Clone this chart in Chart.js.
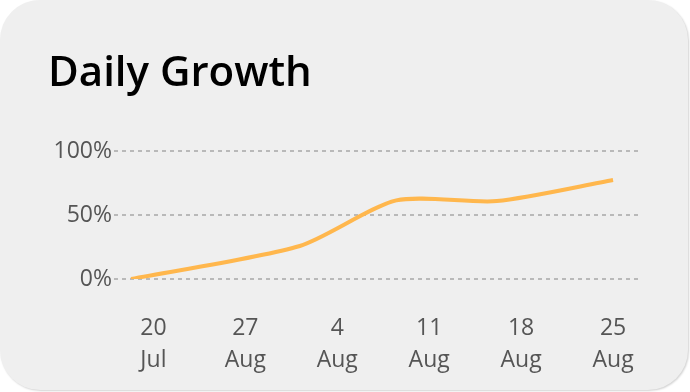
<!DOCTYPE html>
<html>
<head>
<meta charset="utf-8">
<script src="https://cdn.jsdelivr.net/npm/chart.js@4"></script>
<style>
  html, body { margin: 0; padding: 0; background: #ffffff; }
  #card {
    position: absolute; left: 0; top: 0; width: 688px; height: 390px;
    background: #efefef; border-radius: 40px;
    box-shadow: 1px 1px 2px rgba(0,0,0,0.18);
  }
  #c { position: absolute; left: 0; top: 0; }
</style>
</head>
<body>
<div id="card"></div>
<canvas id="c" width="690" height="392"></canvas>
<script>
// Data (x = days after 20 Jul, y = growth %)
const dayValues = [-1.7, 11.15, 18.5, 26.15, 35];
const growthValues = [0, 25.8, 61.4, 60.9, 77.3];
const tickDays = [0, 7, 14, 21, 28, 35];
const tickLabels = [["20", "Jul"], ["27", "Aug"], ["4", "Aug"], ["11", "Aug"], ["18", "Aug"], ["25", "Aug"]];
const yTicks = [0, 50, 100];
const titleText = "Daily Growth";

const points = dayValues.map((d, i) => ({ x: d, y: growthValues[i] }));

new Chart(document.getElementById('c'), {
  type: 'line',
  data: {
    datasets: [{
      data: points,
      borderColor: '#ffb74d',
      borderWidth: 4,
      pointRadius: 0,
      tension: 0.25,
      fill: false
    }]
  },
  options: {
    responsive: false,
    animation: false,
    layout: { padding: { left: 48, right: 52, top: 0, bottom: 0 } },
    plugins: {
      legend: { display: false },
      tooltip: { enabled: false },
      title: {
        display: true,
        text: titleText,
        align: 'start',
        color: '#000000',
        font: { family: 'Open Sans', size: 42, weight: '600', lineHeight: 1.2 },
        padding: { top: 49, bottom: 51.6 }
      }
    },
    scales: {
      x: {
        type: 'linear',
        min: -3,
        max: 36.9,
        grid: { display: false, drawTicks: false },
        border: { display: false },
        afterBuildTicks: (scale) => { scale.ticks = tickDays.map(v => ({ value: v })); },
        afterFit: (scale) => { scale.height = 113; },
        ticks: {
          autoSkip: false,
          maxRotation: 0,
          padding: 34,
          color: '#555555',
          font: { family: 'Open Sans', size: 23, weight: '500', lineHeight: 1.37 },
          callback: (v) => { const i = tickDays.indexOf(v); return i >= 0 ? tickLabels[i] : ''; }
        }
      },
      y: {
        min: 0,
        max: 100,
        afterBuildTicks: (scale) => { scale.ticks = yTicks.map(v => ({ value: v })); },
        afterFit: (scale) => { scale.width = 66; },
        grid: {
          drawTicks: false,
          color: '#b9b9b9',
          lineWidth: 2
        },
        border: { display: false, dash: [4, 4] },
        ticks: {
          padding: 2,
          color: '#555555',
          font: { family: 'Open Sans', size: 23, weight: '500' },
          callback: (v) => v + '%'
        }
      }
    }
  }
});
</script>
</body>
</html>
